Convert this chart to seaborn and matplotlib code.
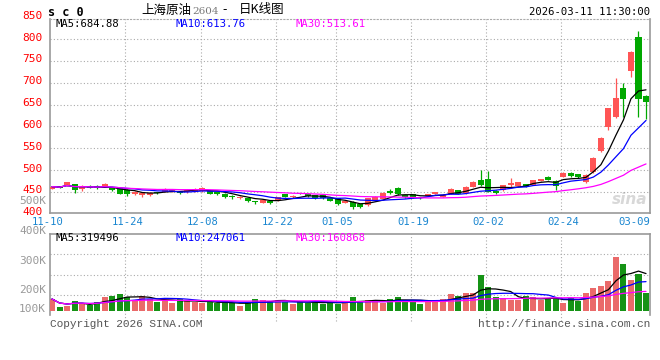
import numpy as np
import pandas as pd
import matplotlib
matplotlib.use("Agg")
import matplotlib.pyplot as plt
import seaborn as sns

# ---------------- data ----------------
open_ = [456.5, 463.4, 464.9, 468.0, 455.8, 460.4, 464.2, 461.9, 459.6, 458.8,
         454.2, 445.8, 442.0, 442.8, 448.9, 449.7, 449.7, 452.0, 449.7, 450.4,
         451.2, 452.7, 448.9, 445.8, 441.0, 435.2, 435.2, 428.0, 425.2, 429.1,
         431.4, 445.0, 437.5, 447.0, 444.0, 442.0, 442.0, 436.7, 435.2, 425.2,
         427.5, 421.4, 419.9, 429.8, 434.4, 452.0, 459.6, 442.0, 444.3, 438.2,
         441.3, 445.1, 439.0, 445.1, 453.5, 446.6, 461.9, 477.1, 479.4, 452.7,
         454.2, 465.7, 464.2, 467.2, 466.4, 475.6, 484.8, 474.1, 484.8, 493.9,
         490.9, 471.8, 494.8, 543.6, 599.3, 620.7, 688.6, 727.5, 805.4, 669.5]
high = [462.5, 464.0, 472.5, 468.5, 465.7, 466.4, 465.0, 470.3, 461.0, 460.0,
        456.0, 451.0, 448.0, 449.0, 450.0, 458.0, 457.0, 453.0, 456.0, 458.0,
        461.0, 454.0, 450.0, 447.0, 442.0, 440.0, 436.0, 430.0, 432.0, 430.0,
        439.0, 446.0, 442.0, 448.0, 447.0, 443.0, 443.0, 438.0, 437.0, 431.0,
        430.0, 423.0, 436.0, 440.0, 449.0, 455.8, 462.0, 443.5, 446.0, 439.0,
        446.0, 450.0, 444.0, 458.0, 455.0, 463.0, 474.0, 500.0, 497.7, 454.0,
        466.0, 481.0, 473.0, 469.0, 478.0, 480.0, 487.0, 476.0, 495.0, 495.0,
        492.0, 490.0, 529.0, 575.0, 643.0, 710.0, 698.5, 772.0, 818.3, 672.0]
low = [456.0, 459.0, 464.0, 448.0, 452.7, 458.0, 457.0, 461.0, 453.0, 444.0,
       441.0, 442.0, 437.5, 441.0, 445.0, 449.0, 449.0, 444.0, 448.0, 449.0,
       450.0, 444.0, 442.0, 436.0, 434.0, 434.0, 427.0, 423.0, 424.0, 423.0,
       430.0, 438.0, 436.0, 444.0, 438.0, 434.0, 434.0, 428.0, 419.0, 424.0,
       410.0, 414.0, 418.0, 428.0, 433.0, 445.0, 443.0, 437.0, 437.0, 434.0,
       440.0, 444.0, 438.0, 444.0, 444.0, 445.0, 460.0, 464.0, 449.0, 446.0,
       453.0, 461.9, 463.0, 460.0, 465.0, 474.0, 476.0, 454.2, 484.0, 485.0,
       482.0, 469.5, 494.0, 542.0, 591.7, 620.0, 620.7, 713.8, 622.2, 617.6]
close = [461.9, 459.6, 471.8, 454.2, 461.9, 458.8, 458.1, 468.0, 454.2, 445.8,
         445.8, 449.7, 446.6, 448.1, 446.6, 456.5, 455.8, 446.6, 454.2, 456.5,
         459.6, 445.8, 444.3, 439.0, 439.0, 439.0, 429.1, 426.5, 431.4, 424.5,
         437.5, 439.0, 441.5, 445.0, 440.5, 436.0, 436.0, 429.8, 421.4, 429.8,
         416.1, 416.1, 435.2, 439.0, 448.1, 446.6, 444.3, 439.0, 439.0, 435.9,
         445.1, 448.9, 442.8, 456.5, 445.8, 461.9, 472.6, 465.7, 450.4, 448.1,
         464.9, 469.5, 471.8, 461.9, 477.1, 478.6, 477.1, 463.4, 493.9, 486.3,
         483.2, 488.6, 528.4, 574.2, 642.8, 665.7, 662.7, 771.0, 662.7, 656.6]
volume_k = [103, 34, 43, 86, 68, 51, 80, 120, 128, 145,
            123, 86, 128, 103, 77, 91, 71, 103, 86, 80,
            66, 74, 68, 82, 66, 43, 74, 103, 91, 86,
            91, 80, 63, 74, 71, 86, 63, 71, 63, 77,
            120, 77, 91, 91, 68, 103, 120, 91, 86, 63,
            86, 91, 103, 145, 128, 154, 154, 308, 205, 120,
            108, 91, 91, 128, 120, 91, 103, 108, 68, 114,
            86, 154, 200, 214, 257, 465, 402, 265, 316, 151]

tick_idx = [0, 10, 20, 30, 38, 48, 58, 68, 77]
tick_labels = ["11-10", "11-24", "12-08", "12-22", "01-05", "01-19", "02-02", "02-24", "03-09"]
grid_idx = [10, 20, 30, 38, 48, 58, 68]
price_ticks = [850, 800, 750, 700, 650, 600, 550, 500, 450, 400]
price_grid = [800, 750, 700, 650, 600, 550, 500, 450]
vol_tick_labels = ["500K", "400K", "300K", "200K", "100K"]
price_ma_text = ["MA5:684.88", "MA10:613.76", "MA30:513.61"]
vol_ma_text = ["MA5:319496", "MA10:247061", "MA30:160868"]

RED = "#ff5555"
GREEN = "#00a800"
MA_COLORS = ["#000000", "#0000ff", "#ff00ff"]
GRID = "#aaaaaa"
FRAME = "#999999"

sns.set_style("white")
plt.rcParams["font.family"] = ["DejaVu Sans Mono", "Noto Sans CJK SC"]

n = len(close)
df = pd.DataFrame({"i": np.arange(n), "o": open_, "h": high, "l": low,
                   "c": close, "v": volume_k})
df["dir"] = np.where(df["c"] >= df["o"], "up", "down")
for w in (5, 10, 30):
    df[f"ma{w}"] = df["c"].rolling(w, min_periods=1).mean()
    df[f"vma{w}"] = df["v"].rolling(w, min_periods=1).mean()

W, H = 660, 360
fig = plt.figure(figsize=(6.6, 3.6), dpi=100)
fig.patch.set_facecolor("white")


def fx(x):
    return x / W


def fy(y):
    return 1 - y / H


ax1 = fig.add_axes([fx(50), fy(213), fx(600), 194 / H])
ax2 = fig.add_axes([fx(50), fy(315), fx(600), 81 / H])
XL = (-0.27, 79.53)
PPX = 0.4367  # pixels per price unit

# ---------- price panel ----------
cols = np.where(df["dir"] == "up", RED, GREEN)
ax1.vlines(df["i"], df["l"], df["h"], colors=cols, lw=0.9, zorder=3)
body = (df["c"] - df["o"]).abs().clip(lower=0.9)
ax1.bar(df["i"], body, bottom=np.minimum(df["o"], df["c"]), width=0.8,
        color=cols, lw=0, zorder=4)
for w, c in zip((5, 10, 30), MA_COLORS):
    sns.lineplot(x=df["i"], y=df[f"ma{w}"], ax=ax1, color=c, lw=0.9, zorder=5)
ax1.set_xlim(*XL)
ax1.set_ylim(401.5, 846)
for p in price_grid:
    ax1.axhline(p, color=GRID, lw=0.8, ls=(0, (1, 2)), zorder=1)
for g in grid_idx:
    ax1.axvline(g - 0.25, color=GRID, lw=0.8, ls=(0, (1, 2)), zorder=1)
ax1.set_xticks([]); ax1.set_yticks([])
ax1.set_xlabel(""); ax1.set_ylabel("")
for s in ("left", "right", "bottom"):
    ax1.spines[s].set_color(FRAME); ax1.spines[s].set_linewidth(1.2)
ax1.spines["top"].set_color(GRID); ax1.spines["top"].set_linestyle((0, (1, 2)))
ax1.spines["top"].set_linewidth(0.8)

for p in price_ticks:
    ax1.text(-0.0125 * (XL[1] - XL[0]) + XL[0], p + 1.5 / PPX, str(p),
             color="#ff0000", fontsize=8, ha="right", va="center", clip_on=False)

# x tick labels
for k, (ti, lab) in enumerate(zip(tick_idx, tick_labels)):
    xx = ti
    if k == 0:
        xx = ti - 0.6
    if k == len(tick_idx) - 1:
        xx = ti + 0.5
    ax1.text(xx, 401.5 - 9 / PPX, lab, color="#1a86d0", fontsize=7.6,
             ha="center", va="center", clip_on=False)

for txt, c, x in zip(price_ma_text, MA_COLORS, (55, 175, 295)):
    fig.text(fx(x), fy(24), txt, color=c, fontsize=7.6, ha="left", va="center")

# watermark
ax1.text(0.995, 0.07, "sina", transform=ax1.transAxes, fontsize=11,
         family="DejaVu Sans", style="italic", weight="bold",
         color="#d8d8d8", ha="right", va="center", zorder=0)

# ---------- volume panel ----------
sns.barplot(data=df, x="i", y="v", hue="dir", palette={"up": RED, "down": GREEN},
            dodge=False, width=0.8, errorbar=None, legend=False,
            native_scale=True, ax=ax2, linewidth=0, zorder=3)
for w, c in zip((5, 10, 30), MA_COLORS):
    sns.lineplot(x=df["i"], y=df[f"vma{w}"], ax=ax2, color=c, lw=0.9, zorder=5)
ax2.set_xlim(*XL)
ax2.set_ylim(-34, 658)
for frac in (0.25, 0.5, 0.75):
    ax2.axhline(658 - frac * (658 + 34), color=GRID, lw=0.8,
                ls=(0, (1, 2)), zorder=1)
for g in grid_idx:
    ax2.axvline(g - 0.25, ymin=-0.07, ymax=1, color=GRID, lw=0.8,
                ls=(0, (1, 2)), zorder=1, clip_on=False)
ax2.set_xticks([]); ax2.set_yticks([])
ax2.set_xlabel(""); ax2.set_ylabel("")
for s in ("left", "right", "top"):
    ax2.spines[s].set_color(FRAME); ax2.spines[s].set_linewidth(1.2)
ax2.spines["bottom"].set_visible(False)

for lab, ypix in zip(vol_tick_labels, (201, 231, 261, 290, 309)):
    fig.text(fx(46), fy(ypix), lab, color="#999999", fontsize=8,
             ha="right", va="center", zorder=0)

for txt, c, x in zip(vol_ma_text, MA_COLORS, (55, 175, 295)):
    fig.text(fx(x), fy(238), txt, color=c, fontsize=7.6, ha="left", va="center")

# ---------- header / footer ----------
fig.text(fx(48), fy(12), "s c 0", fontsize=8.5, weight="bold", color="black",
         ha="left", va="center")
fig.text(fx(141), fy(10), "上海原油", family=["Noto Sans CJK SC"], fontsize=9,
         color="black", ha="left", va="center")
fig.text(fx(192), fy(11), "2604", family=["DejaVu Serif"], fontsize=7.5,
         color="#777777", ha="left", va="center")
fig.text(fx(222), fy(10), "-", family=["Noto Sans CJK SC"], fontsize=9,
         color="black", ha="left", va="center")
fig.text(fx(239), fy(10), "日K线图", family=["Noto Sans CJK SC"], fontsize=9,
         color="black", ha="left", va="center")
fig.text(fx(650), fy(12), "2026-03-11 11:30:00", fontsize=7.6, color="black",
         ha="right", va="center")
fig.text(fx(50), fy(324), "Copyright 2026 SINA.COM", family=["Liberation Mono"],
         fontsize=8, color="#555555", ha="left", va="center")
fig.text(fx(650), fy(324), "http://finance.sina.com.cn", family=["Liberation Mono"],
         fontsize=8, color="#555555", ha="right", va="center")

fig.savefig("out.png", dpi=100, facecolor="white")
